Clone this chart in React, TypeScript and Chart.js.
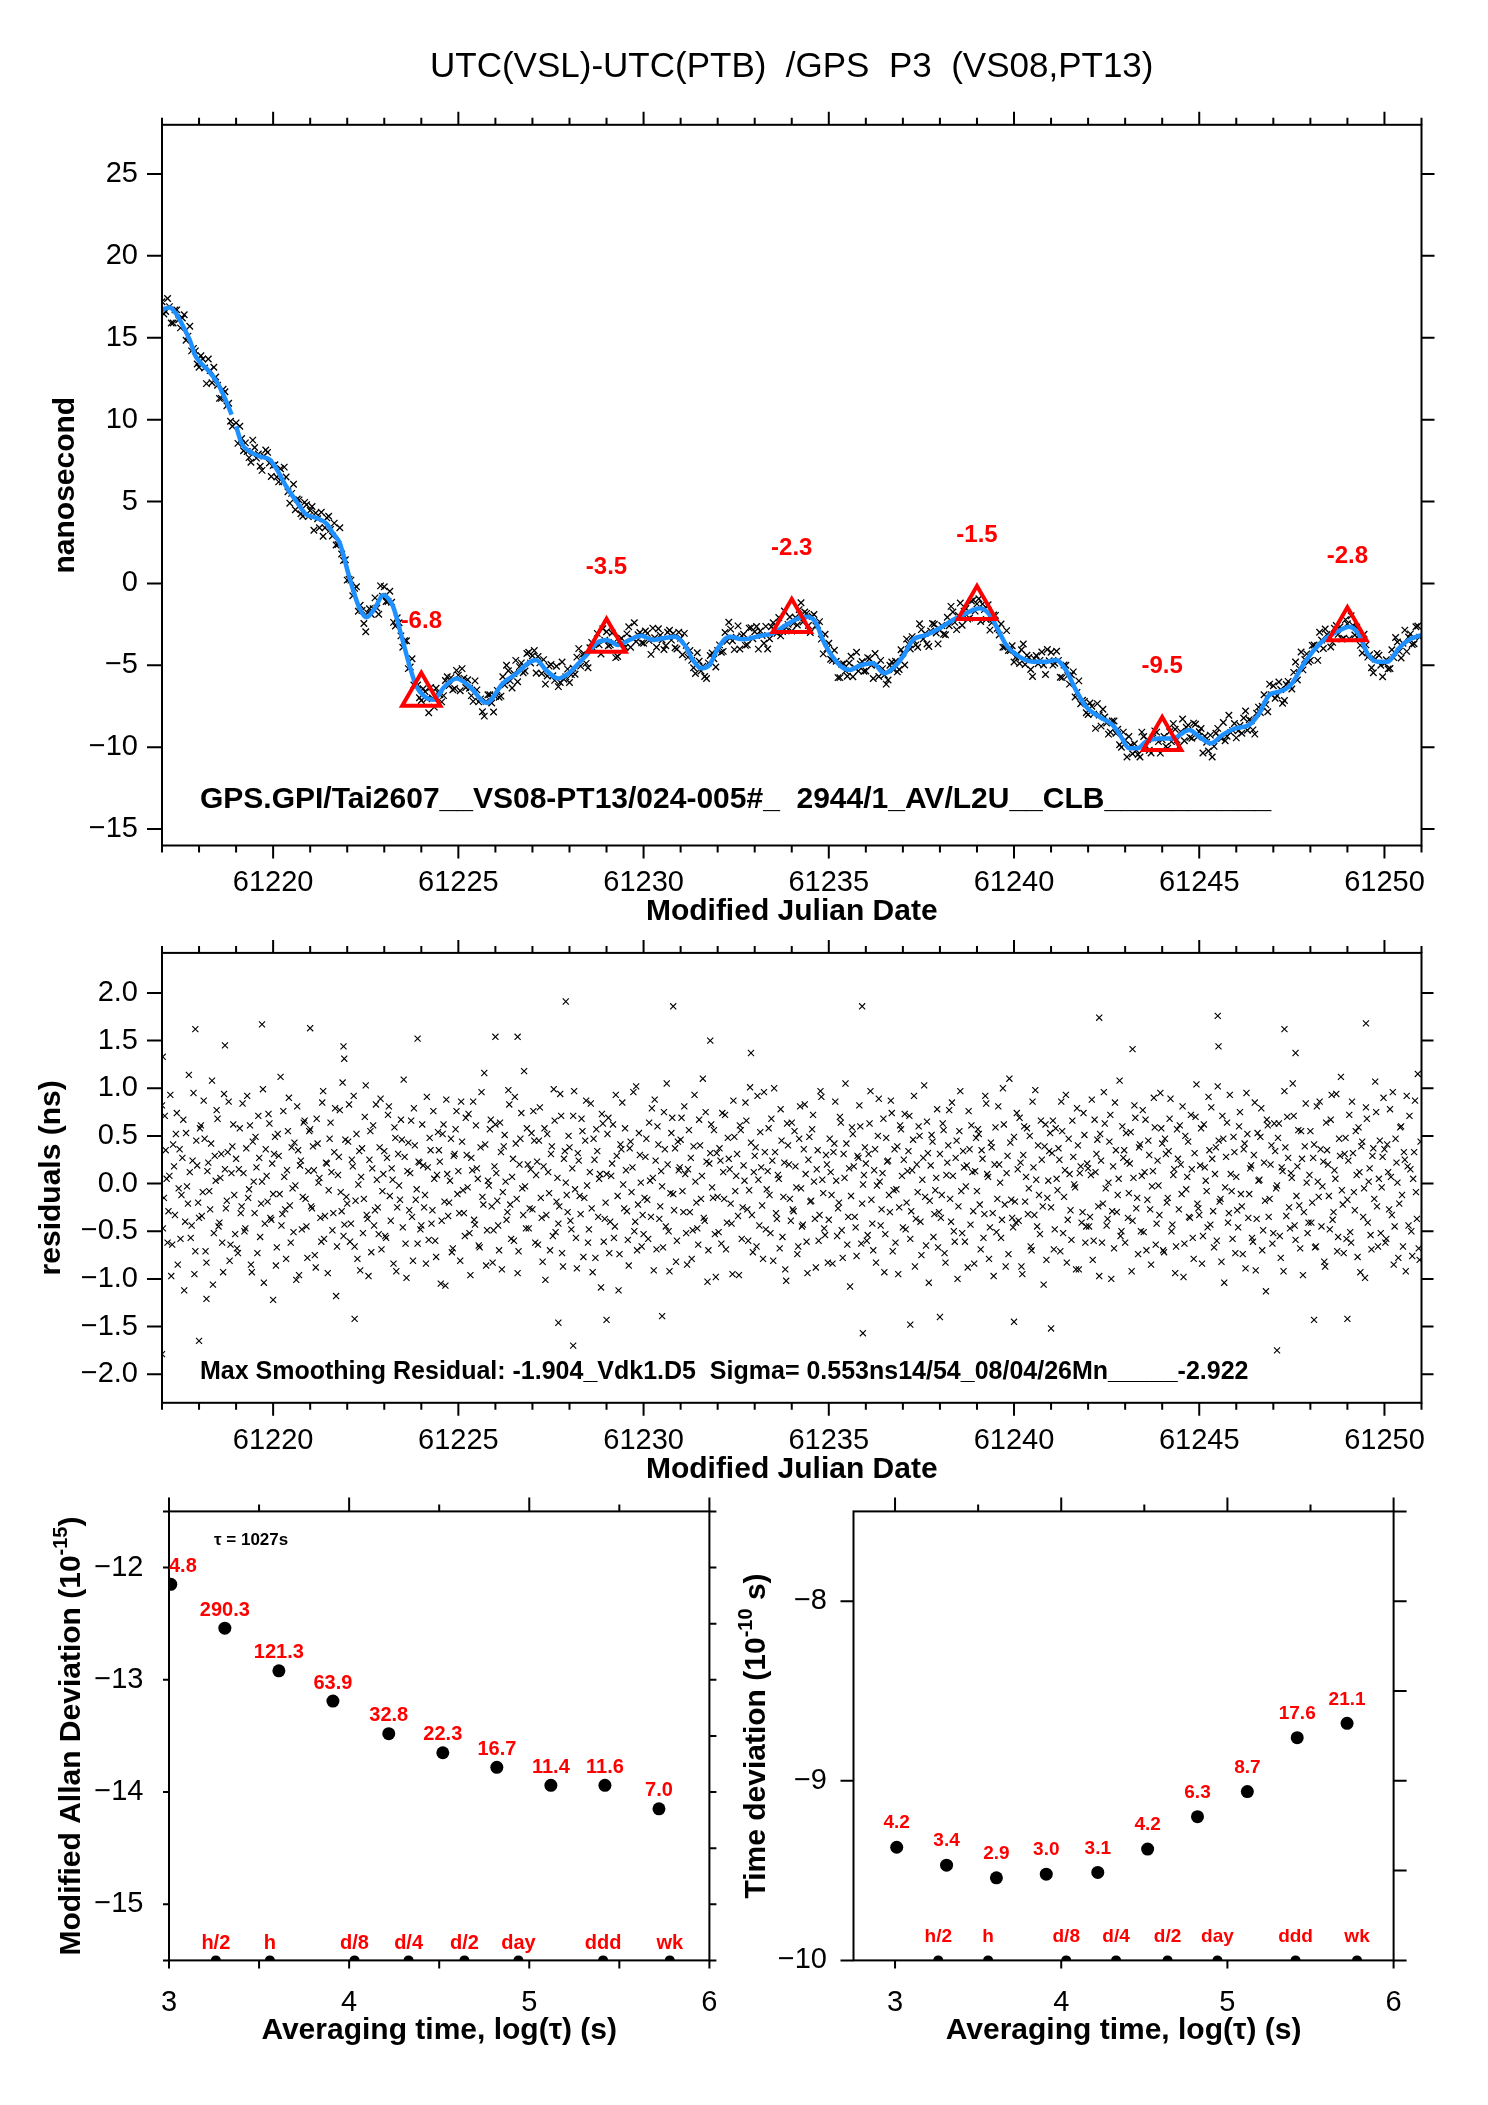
import React, { useEffect, useRef } from "react";
import { Chart, registerables } from "chart.js";

Chart.register(...registerables);

const FONT = "'Liberation Sans', Arial, Helvetica, sans-serif";

// ---------------- tick labels ----------------
const mjdTickLabels = [61220, 61225, 61230, 61235, 61240, 61245, 61250];
const nsTickLabels = [-15, -10, -5, 0, 5, 10, 15, 20, 25];
const residTickLabels = [-2, -1.5, -1, -0.5, 0, 0.5, 1, 1.5, 2];
const logTauTickLabels = [3, 4, 5, 6];
const adevTickLabels = [-15, -14, -13, -12];
const tdevTickLabels = [-10, -9, -8];

// ---------------- top panel: raw clock differences (ns) ----------------
// series A: 0.1 day sampling starting at MJD 61217.00
const rawStartMjd = 61217.0;
const rawStepDay = 0.1;
const rawNs = [
  17.2, 16.6, 16.9, 15.9, 16.7, 15.6, 16.4, 15.1, 14.2, 14.2,
  13.2, 13.7, 12.2, 13.0, 13.2, 12.1, 11.3, 11.7, 11.0, 9.6,
  9.8, 9.6, 8.1, 8.05, 7.4, 8.3, 7.9, 6.9, 8.15, 7.35,
  7.2, 6.5, 7.0, 7.1, 5.6, 5.5, 4.5, 5.1, 4.1, 4.8,
  4.45, 3.25, 3.95, 4.35, 3.4, 4.1, 2.9, 2.35, 3.4, 1.4,
  0.2, 0.2, -0.3, -1.7, -1.65, -2.95, -1.55, -1.55, -1.5, -0.15,
  -0.2, -1.1, -1.15, -2.6, -2.4, -3.9, -3.5, -5.1, -6.2, -6.2,
  -7.15, -6.6, -7.9, -7.0, -6.4, -6.8, -6.85, -5.7, -5.75, -6.42,
  -5.6, -5.2, -6.35, -6.4, -7.2, -6.5, -7.05, -8.1, -6.8, -7.3,
  -6.9, -6.95, -5.7, -5.0, -5.95, -5.5, -6.0, -4.85, -5.35, -4.2,
  -4.42, -5.47, -4.85, -4.65, -5.65, -4.95, -5.92, -6.3, -4.8, -5.7,
  -6.05, -5.18, -4.5, -5.05, -4.3, -5.15, -3.6, -3.65, -3.75, -2.77,
  -2.95, -3.75, -3.6, -4.46, -3.35, -3.9, -2.65, -3.35, -3.55, -3.0,
  -3.65, -3.05, -4.33, -3.32, -2.77, -3.45, -3.8, -2.86, -3.05, -4.0,
  -3.35, -3.05, -4.5, -4.7, -5.5, -4.75, -5.05, -5.8, -4.4, -4.6,
  -4.1, -4.2, -3.0, -2.37, -3.5, -3.28, -4.0, -3.1, -3.75, -2.7,
  -2.95, -4.01, -3.18, -2.62, -3.38, -2.4, -3.05, -3.2, -1.68, -2.5,
  -2.9, -2.08, -1.6, -2.35, -1.83, -3.0, -1.9, -2.55, -3.4, -3.1,
  -3.65, -4.7, -4.75, -5.75, -4.9, -5.67, -4.45, -5.15, -5.35, -4.77,
  -5.35, -4.6, -5.8, -4.95, -4.7, -5.59, -5.9, -4.8, -4.75, -5.25,
  -4.25, -3.4, -4.0, -3.5, -3.9, -2.82, -3.05, -3.85, -2.45, -3.03,
  -2.84, -3.1, -2.06, -1.4, -2.38, -1.96, -2.55, -1.53, -2.12, -1.02,
  -1.25, -2.32, -1.6, -1.3, -2.4, -1.95, -3.15, -3.9, -2.88, -4.1,
  -4.8, -4.32, -4.05, -4.95, -4.52, -5.68, -4.4, -4.7, -4.98, -4.03,
  -4.2, -4.87, -4.7, -5.75, -5.0, -6.15, -5.4, -6.65, -7.35, -7.2,
  -8.0, -7.5, -8.85, -8.03, -7.68, -8.52, -9.08, -8.4, -8.9, -10.0,
  -9.55, -9.35, -10.4, -10.18, -10.6, -9.35, -9.53, -10.35, -9.0, -9.66,
  -9.55, -9.95, -9.06, -8.56, -9.55, -9.05, -9.6, -8.65, -9.45, -8.6,
  -9.06, -10.35, -9.7, -9.26, -9.95, -8.85, -9.47, -9.6, -8.05, -8.97,
  -9.43, -8.67, -8.22, -8.96, -8.38, -9.2, -7.55, -7.5, -7.4, -6.15,
  -6.25, -6.86, -6.48, -7.15, -5.98, -6.45, -4.8, -5.2, -5.28, -4.3,
  -4.7, -3.76, -4.7, -3.45, -2.78, -3.35, -3.6, -2.57, -2.65, -3.35,
  -2.46, -1.97, -3.15, -3.2, -4.25, -3.75, -4.35, -5.45, -4.27, -5.0,
  -4.89, -5.22, -4.05, -3.3, -4.15, -3.65, -4.15, -3.08, -3.68, -2.6,
];
// series B: 0.1 day sampling starting at MJD 61217.05 (null = data gap)
const rawMidStartMjd = 61217.05;
const rawMidNs: (number | null)[] = [
  16.45, 17.4, 15.9, 16.7, 16.1, 16.2, 14.85, 15.7, 14.35, 13.4,
  13.9, 13.15, 13.7, 12.25, 12.6, 11.3, 11.85, 10.85, 9.9, null,
  8.55, 8.85, 8.58, 7.68, 8.75, 7.65, 7.15, 7.78, 8.0, 6.53,
  7.25, 6.2, 6.2, 6.5, 4.9, 6.05, 5.15, 4.25, 4.95, 4.08,
  4.7, 4.3, 3.4, 2.88, 4.0, 3.3, 3.68, 2.38, 1.8, 1.45,
  0.25, -0.75, -0.2, -1.33, -2.45, -1.8, -1.9, -0.88, -1.88, -0.78,
  -1.1, -0.48, -2.38, -2.1, -3.2, -3.5, -5.2, -4.6, -6.05, -6.98,
  -6.43, -7.05, -6.35, -7.55, -6.65, -7.23, -5.93, -6.23, -6.49, -5.31,
  -6.55, -5.78, -5.88, -6.85, -5.95, -7.23, -7.83, -7.2, -6.8, -7.85,
  -6.53, -6.88, -6.2, -5.33, -6.38, -4.7, -5.08, -5.45, -4.28, -4.86,
  -4.1, -4.46, -5.5, -6.15, -5.05, -5.64, -5.06, -6.05, -5.85, -5.23,
  -5.57, -5.54, -3.98, -4.33, -4.88, -3.93, -3.98, -3.05, -4.31, -3.46,
  -3.8, -3.03, -4.53, -3.5, -3.68, -3.08, -3.9, -2.4, -3.13, -3.63,
  -2.9, -3.49, -2.73, -3.9, -3.16, -4.03, -2.98, -3.46, -3.93, -2.98,
  -4.35, -3.78, -4.1, -5.15, -4.23, -5.35, -5.68, -4.85, -4.25, -5.1,
  -3.75, -4.15, -3.54, -2.79, -4.04, -2.59, -3.2, -3.78, -2.73, -3.38,
  -2.63, -2.9, -3.65, -4.0, -2.64, -2.93, -2.08, -2.94, -2.69, -2.05,
  -2.44, -2.54, -1.18, -1.74, -2.57, -2.0, -2.58, -2.33, -4.3, -3.98,
  -4.63, -4.08, -5.75, -4.93, -5.34, -4.86, -5.7, -4.2, -4.91, -5.36,
  -4.53, -5.0, -4.28, -5.68, -5.2, -6.15, -5.0, -5.28, -5.4, -4.05,
  -4.98, -3.7, -3.25, -3.75, -2.46, -3.39, -3.7, -2.9, -2.49, -3.69,
  -2.57, -3.13, -2.58, -1.74, -2.82, -1.2, -1.69, -2.18, -1.07, -1.69,
  -0.94, -1.26, -2.2, -2.85, -1.93, -2.75, -2.48, -3.89, -4.09, -3.8,
  -4.51, -4.89, -3.7, -4.39, -5.25, -4.59, -4.9, -4.19, -5.56, -4.72,
  -4.99, -4.14, -5.73, -4.98, -5.63, -5.58, -6.93, -5.95, -7.13, -7.9,
  -7.3, -7.98, -7.34, -8.71, -8.15, -9.2, -8.39, -9.15, -9.85, -9.08,
  -10.6, -9.88, -9.79, -10.44, -9.08, -9.89, -10.19, -9.43, -9.08, -10.36,
  -9.35, -10.06, -9.66, -8.9, -9.95, -8.28, -8.78, -9.4, -8.53, -9.38,
  -8.86, -9.33, -10.23, -10.6, -9.15, -9.36, -8.49, -9.33, -9.11, -8.55,
  -9.0, -9.15, -7.79, -8.32, -8.94, -7.93, -7.88, -6.8, -7.83, -6.8,
  -7.01, -6.02, -7.32, -6.17, -6.27, -5.43, -5.9, -4.19, -4.64, -4.8,
  -3.78, -4.03, -2.98, -3.97, -3.12, -3.88, -2.74, -3.11, -3.4, -2.21,
  -3.37, -2.56, -2.68, -3.78, -3.1, -4.5, -5.15, -4.61, -4.39, -5.7,
  -4.66, -5.19, -4.53, -3.58, -4.55, -2.85, -3.27, -3.73, -2.64, -3.28,
];

// ---------------- top panel: smoothed curve (ns), null = gap ----------------
const smoothMjd = [
  61217.0, 61217.2, 61217.4, 61217.57, 61217.76, 61217.89, 61218.03, 61218.25, 61218.48, 61218.7,
  61218.88, 61218.94, 61219.0, 61219.15, 61219.37, 61219.64, 61219.91, 61220.09, 61220.36, 61220.63,
  61220.9, 61221.17, 61221.44, 61221.62, 61221.8, 61222.03, 61222.16, 61222.32, 61222.52, 61222.75,
  61222.97, 61223.1, 61223.24, 61223.47, 61223.69, 61223.87, 61224.09, 61224.32, 61224.63, 61224.95,
  61225.31, 61225.76, 61226.2, 61226.57, 61226.93, 61227.1, 61227.37, 61227.7, 61228.0, 61228.28,
  61228.46, 61228.73, 61229.0, 61229.31, 61229.62, 61229.94, 61230.25, 61230.52, 61230.84, 61231.11,
  61231.33, 61231.56, 61231.78, 61232.01, 61232.32, 61232.68, 61233.13, 61233.49, 61233.85, 61234.17,
  61234.43, 61234.66, 61234.84, 61235.07, 61235.34, 61235.56, 61235.88, 61236.19, 61236.5, 61236.73,
  61237.0, 61237.27, 61237.63, 61237.99, 61238.35, 61238.71, 61239.07, 61239.34, 61239.55, 61239.79,
  61240.14, 61240.5, 61240.87, 61241.13, 61241.4, 61241.67, 61241.94, 61242.3, 61242.66, 61242.89,
  61243.11, 61243.34, 61243.56, 61243.92, 61244.28, 61244.73, 61245.0, 61245.32, 61245.63, 61245.99,
  61246.35, 61246.62, 61246.89, 61247.16, 61247.47, 61247.83, 61248.1, 61248.42, 61248.73, 61249.05,
  61249.32, 61249.54, 61249.81, 61250.08, 61250.39, 61250.66, 61251.0,
];
const smoothNs: (number | null)[] = [
  16.7, 16.85, 16.4, 15.7, 14.8, 13.95, 13.5, 13.0, 12.3, 11.3,
  10.3, null, 9.6, 8.55, 8.05, 7.75, 7.55, 7.0, 5.9, 5.0,
  4.2, 4.0, 3.65, 3.05, 2.45, 0.6, -0.4, -1.45, -2.07, -1.5,
  -0.7, -0.9, -1.42, -3.25, -5.08, -6.3, -6.9, -7.1, -6.3, -5.8,
  -6.3, -7.3, -6.1, -5.5, -4.8, -4.67, -5.3, -5.8, -5.45, -4.8,
  -4.37, -3.65, -3.45, -3.76, -3.45, -3.2, -3.45, -3.35, -3.25, -3.76,
  -4.67, -5.18, -4.98, -3.96, -3.25, -3.41, -3.21, -3.04, -2.54, -2.13,
  -2.03, -2.43, -3.45, -4.37, -5.08, -5.28, -4.98, -4.88, -5.49, -5.18,
  -4.47, -3.45, -3.15, -2.74, -2.23, -1.82, -1.52, -1.9, -2.74, -3.76,
  -4.47, -4.78, -4.78, -4.67, -5.28, -6.5, -7.52, -8.13, -8.64, -9.36,
  -10.07, -10.07, -9.66, -9.46, -9.46, -8.95, -9.36, -9.76, -9.25, -8.84,
  -8.64, -7.93, -6.81, -6.61, -6.2, -4.88, -4.06, -3.35, -2.94, -2.64,
  -3.15, -4.27, -4.78, -4.78, -3.96, -3.45, -3.15,
];

// ---------------- top panel: marked extrema ----------------
const peakMjd = [61224, 61229, 61234, 61239, 61244, 61249];
const peakNs = [-6.8, -3.5, -2.3, -1.5, -9.5, -2.8];
const peakLabels = ["-6.8", "-3.5", "-2.3", "-1.5", "-9.5", "-2.8"];

// ---------------- residual panel (ns) ----------------
// series A: 0.05 day sampling starting at MJD 61217.000
const residStartMjd = 61217.0;
const residStepDay = 0.05;
const residNs = [
  0.82, -0.15, 0.35, -0.62, 0.08, -0.97, 0.41, -0.33, 0.74, -0.05, -0.58, 0.27, -1.12, 0.53, -0.21, 0.12, -0.44, 0.95, -0.71, 0.19,
  -0.36, 0.61, -0.09, 0.47, -0.83, 0.22, -0.27, 1.08, -0.52, 0.03, 0.68, -0.41, 0.31, -0.93, 0.15, -0.18, 0.86, -0.64, 0.39, -0.12,
  0.26, -0.73, 0.58, -0.24, 0.11, -0.47, 0.92, -0.06, -0.85, 0.44, -0.31, 0.17, 0.71, -0.56, 0.02, -1.04, 0.36, -0.19, 0.63, -0.38,
  -0.11, 0.49, -0.67, 0.29, 1.12, -0.32, 0.07, -0.79, 0.55, -0.23, 0.38, -0.51, -0.02, 0.81, -0.96, 0.24, -0.14, 0.66, -0.45, 0.13,
  0.57, -0.26, 0.14, -0.88, 0.42, 0.06, -0.61, 0.97, -0.34, 0.21, -0.07, 0.64, -0.49, 0.33, -1.18, 0.09, 0.77, -0.29, -0.55, 0.46,
  -0.21, 0.83, -0.42, 0.18, -0.66, 0.52, -0.01, -0.91, 0.37, -0.16, 1.03, -0.37, 0.25, -0.72, 0.61, -0.28, 0.04, -0.53, 0.89, -0.08,
  0.34, -0.57, 0.72, -0.13, 0.16, -0.84, 0.48, -0.25, -0.02, 0.67, -0.46, 0.28, -0.99, 0.43, 0.11, -0.35, 0.79, -0.17, -0.63, 0.22,
  -0.44, 0.19, -0.12, 0.91, -0.59, 0.35, -0.28, 0.05, -0.77, 0.54, 0.23, -0.39, 0.62, -1.07, 0.1, -0.2, 0.47, -0.68, 0.31, 0.76,
  0.13, -0.81, 0.44, -0.31, 0.69, -0.04, -0.52, 0.27, 0.86, -0.43, 0.16, -0.65, 0.38, -0.14, 1.16, -0.86, 0.03, 0.57, -0.24, -0.49,
  0.62, -0.18, -0.7, 0.33, -0.09, 0.51, -0.38, 0.98, -0.22, 0.07, -0.6, 0.42, -0.94, 0.2, 0.74, -0.33, -0.03, 0.58, -0.47, 0.15,
  -0.27, 0.45, 0.09, -0.64, 0.8, -0.36, 0.18, -1.01, 0.52, -0.1, 0.31, -0.55, 0.66, -0.19, -0.42, 0.94, -0.73, 0.26, 0.01, -0.3,
  0.38, -0.48, 0.71, -0.06, -0.89, 0.24, -0.32, 0.55, -0.15, 0.87, -0.62, 0.12, -0.26, 0.47, -0.78, 0.34, 0.05, -1.09, 0.63, -0.37,
  0.1, 0.69, -0.4, 0.21, -0.57, 0.93, -0.13, -0.74, 0.36, -0.01, 0.58, -0.29, -0.86, 0.44, 0.17, -0.5, 1.02, -0.22, 0.3, -0.66,
  -0.53, 0.28, -0.17, 0.64, -0.35, 0.06, 0.88, -0.69, 0.41, -0.24, -0.03, 0.75, -0.45, 0.2, -0.92, 0.53, -0.11, 0.37, -0.6, 0.14,
  0.46, -0.08, 0.81, -0.52, 0.15, -0.3, -0.79, 0.39, 0.02, -0.47, 0.67, -0.16, 1.1, -0.39, 0.23, -0.7, 0.32, -0.04, 0.56, -0.98,
  -0.14, 0.37, -0.63, 0.12, 0.72, -0.41, 0.26, -0.21, -0.95, 0.49, 0.08, -0.34, 0.61, -0.58, 0.19, 0.85, -0.27, -0.07, 0.43, -0.72,
  0.29, -0.66, 0.04, 0.54, -0.23, 0.96, -0.48, 0.13, -0.12, 0.68, -0.81, 0.33, -0.37, 0.05, 0.78, -0.56, 0.22, -1.02, 0.4, -0.16,
  0.64, -0.29, 0.18, -0.74, 0.47, -0.05, -0.43, 0.83, -0.61, 0.25, -0.19, 0.57, 0.02, -0.88, 0.35, -0.33, 0.91, -0.1, -0.54, 0.2,
  -0.38, 0.12, -0.84, 0.42, 0.03, -0.26, 0.7, -0.49, 0.31, 1.05, -0.64, 0.16, -0.13, 0.52, -0.35, -0.76, 0.27, 0.6, -0.21, 0.09,
  0.21, -0.54, 0.63, -0.17, -0.7, 0.36, -0.02, 0.89, -0.44, 0.11, -0.93, 0.48, 0.24, -0.3, 0.74, -0.07, -0.62, 0.39, -0.25, 0.57,
  -0.46, 0.73, -0.2, 0.34, -0.58, 0.14, 0.92, -0.37, -0.09, 0.5, -0.75, 0.27, -0.14, 0.65, -1.04, 0.19, 0.44, -0.32, 0.06, -0.67,
  0.31, -0.12, 0.56, -0.83, 0.22, 0.77, -0.4, 0.08, -0.61, 0.45, -0.24, 0.97, -0.52, 0.17, -0.03, -0.88, 0.36, 0.61, -0.29, 0.13,
  -0.08, 0.52, -0.69, 0.26, -0.32, 0.84, 0.07, -0.46, 0.38, -0.97, 0.59, -0.16, 0.2, -0.57, 1.0, -0.22, 0.11, -0.74, 0.43, -0.36,
  0.49, -0.41, 0.15, 0.69, -0.87, 0.3, -0.19, 0.58, -0.05, -0.66, 0.86, -0.33, 0.04, 0.4, -0.53, 0.25, -1.06, 0.62, -0.15, 0.34,
  -0.25, 0.66, -0.48, 0.05, 0.37, -0.71, 0.55, -0.14, 0.93, -0.38, 0.1, -0.59, 0.28, -0.04, 0.79, -0.9, 0.18, -0.3, 0.51, -0.45,
  0.16, -0.35, 0.88, -0.6, 0.12, 0.46, -0.97, 0.24, -0.21, 0.63, -0.44, 0.01, 0.72, -0.29, -0.68, 0.35, -0.12, 1.08, -0.5, 0.27,
  -0.62, 0.23, -0.1, 0.54, -0.39, 0.82, -0.26, -0.74, 0.41, 0.08, -0.51, 0.67, -0.17, 0.3, -0.85, 0.13, 0.59, -0.42, -0.02, 0.95,
  0.42, -0.72, 0.31, -0.15, 0.68, -0.5, 0.09, -0.94, 0.57, -0.27, 0.2, 0.81, -0.63, -0.06, 0.44, -0.36, 0.15, -0.79, 0.7, -0.21,
  -0.33, 0.58, -0.55, 0.17, -0.08, 0.91, -0.43, 0.26, -0.67, 0.38, 1.02, -0.19, -0.82, 0.47, -0.04, 0.64, -0.31, 0.1, -0.58, 0.33,
  0.07, -0.46, 0.75, -0.24, 0.36, -0.89, 0.52, -0.11, 0.19, -0.61, 0.85, -0.37, 0.03, 0.49, -0.7, 0.22, -1.13, 0.61, -0.16, 0.4,
  -0.52, 0.34, -0.02, 0.63, -0.78, 0.13, 0.97, -0.34, 0.27, -0.47, 0.06, 0.71, -0.59, 0.18, -0.23, 0.55, -0.96, 0.39, 0.01, -0.41,
  0.55, -0.2, 0.41, -0.66, 0.02, 0.86, -0.45, 0.23, -0.87, 0.35, -0.13, 0.67, -0.38, 0.14, 0.94, -0.56, 0.29, -0.07, -0.73, 0.48,
  -0.17, 0.72, -0.62, 0.32, -0.28, 0.09, 0.59, -0.93, 0.44, -0.05, 0.8, -0.41, 0.16, -0.69, 0.37, 1.07, -0.24, 0.05, -0.52, 0.28,
  0.36, -0.58, 0.12, 0.78, -0.33, -0.85, 0.47, 0.01, -0.21, 0.6, -0.66, 0.25, 0.92, -0.44, 0.15, -0.76, 0.33, -0.09, 1.15, -0.8,
];
// series B: 0.05 day sampling starting at MJD 61217.025
const residMidStartMjd = 61217.025;
const residMidNs = [
  -0.47, 0.71, 0.05, -0.29, 0.93, -0.64, 0.18, 0.52, -0.85, 0.36, -0.12, 0.67, -0.4, -0.03, 1.14, -0.57, 0.24, -0.95, 0.45, -0.2,
  0.58, -0.34, 0.87, -0.71, 0.13, -0.08, 0.42, -1.06, 0.29, 0.77, -0.45, 0.06, -0.62, 0.94, -0.26, 0.33, -0.81, 0.11, 0.62, -0.53,
  -0.68, 0.15, -0.31, 0.84, -0.5, 0.37, -0.15, 0.61, -0.93, 0.02, 0.49, -0.73, 0.27, -0.21, 0.99, -0.42, 0.08, 0.73, -0.36, 0.21,
  0.31, -0.86, 0.52, -0.11, -0.44, 0.76, -0.27, 0.14, 0.9, -0.62, -0.05, 0.43, -1.01, 0.35, 0.19, -0.48, 0.64, -0.16, -0.78, 0.55,
  -0.24, 0.39, -0.75, 0.68, 0.01, -0.36, 0.85, -0.58, 0.22, -0.94, 0.47, 0.12, -0.31, 0.79, -0.66, 0.28, -0.09, 1.06, -0.43, -0.14,
  0.44, -0.61, 0.25, 0.92, -0.18, -0.79, 0.34, 0.07, -0.52, 0.7, -0.33, -0.97, 0.55, 0.16, -0.44, 0.83, -0.25, 0.38, -0.69, 0.1,
  -0.55, 0.27, 0.81, -0.39, 0.04, 0.59, -0.92, 0.31, -0.17, 0.46, 1.09, -0.63, 0.13, -0.28, 0.66, -0.81, 0.4, -0.06, 0.23, -0.48,
  0.62, -0.25, -0.84, 0.17, 0.48, -0.42, 0.76, -0.6, 0.09, 0.35, -1.05, 0.52, -0.19, 0.88, -0.34, 0.03, -0.72, 0.29, 0.57, -0.11,
  -0.31, 0.86, -0.07, -0.55, 0.3, 0.73, -0.96, 0.14, -0.38, 0.61, 0.05, -0.67, 0.96, -0.22, 0.41, -0.49, -0.02, 0.67, -0.83, 0.18,
  0.11, -0.44, 0.64, -0.9, 0.39, 0.02, -0.3, 0.83, -0.58, 0.26, 0.91, -0.16, -0.71, 0.47, -0.05, 1.18, -0.47, 0.2, -0.26, 0.53,
  0.76, -0.62, 0.23, 0.45, -0.15, -0.82, 0.58, -0.33, 0.12, -0.7, 0.39, 0.99, -0.51, 0.06, -0.24, 0.71, -0.87, 0.34, -0.12, 0.5,
  -0.39, 0.16, 0.97, -0.57, 0.32, -0.13, 0.68, -0.77, 0.45, -0.02, -0.48, 0.84, -0.93, 0.25, 0.57, -0.35, 0.1, 0.73, -0.61, -0.2,
  0.52, -0.73, 0.08, 0.62, -0.45, 0.29, -1.12, 0.41, 0.85, -0.26, 0.14, -0.59, 0.37, -0.09, 0.96, -0.4, -0.7, 0.53, 0.01, -0.33,
  -0.15, 0.47, -0.58, 0.03, 0.79, -0.91, 0.24, 0.6, -0.37, 0.13, -0.67, 0.36, 1.05, -0.5, -0.1, 0.69, -0.28, -0.82, 0.44, 0.17,
  0.69, -0.3, 0.1, -0.85, 0.56, 0.27, -0.49, 0.93, -0.2, -0.64, 0.4, 0.08, -0.36, 0.75, -1.03, 0.21, 0.62, -0.15, -0.53, 0.32,
  -0.51, 0.24, 0.74, -0.16, -0.69, 0.48, 0.15, -0.42, 0.87, -0.08, 0.31, -0.96, 0.56, -0.25, 0.03, 0.66, -0.6, 1.01, -0.33, 0.12,
  0.38, 0.92, -0.44, 0.17, -0.79, 0.33, -0.06, 0.58, -0.52, 0.24, 1.0, -0.31, 0.09, -0.68, 0.45, -0.14, -0.9, 0.63, 0.2, -0.39,
  -0.27, 0.55, -0.04, -0.66, 0.81, -0.45, 0.36, 0.1, -0.94, 0.49, -0.18, 0.72, -0.37, 0.15, -0.6, 0.97, 0.04, -0.47, 0.3, -0.83,
  0.47, -0.12, 0.33, 0.86, -0.55, -0.2, 0.64, -0.78, 0.06, 0.42, -0.35, -1.08, 0.59, 0.18, -0.46, 0.29, 0.82, -0.63, -0.01, 0.38,
  -0.6, 0.31, 0.97, -0.42, 0.14, -0.83, 0.5, 0.02, -0.27, 0.68, -0.53, 0.23, -0.12, 0.87, -0.71, 0.36, -0.06, -0.95, 0.61, 0.08,
  0.25, -0.48, 0.13, 0.71, -0.29, 0.46, -0.87, 0.2, 0.6, -0.4, 0.04, 1.03, -0.65, 0.32, -0.18, 0.51, -0.56, -0.07, 0.78, -0.3,
  -0.36, 0.63, -0.73, 0.09, 0.4, -0.16, 0.85, -0.5, 0.27, -1.0, 0.55, -0.08, 0.34, -0.61, 0.19, 0.76, -0.43, 0.12, -0.84, 0.48,
  0.57, -0.22, 0.35, -0.57, 0.92, 0.1, -0.79, 0.43, -0.31, 0.2, -0.51, 0.81, 0.01, -0.38, 0.62, -0.87, 0.29, 1.1, -0.17, -0.46,
  -0.19, 0.74, -0.39, 0.22, -0.95, 0.6, 0.07, -0.32, 0.5, -0.7, 0.17, 0.98, -0.45, -0.12, 0.66, -0.24, 0.39, -0.8, 0.03, 0.53,
  0.32, -0.69, 0.58, -0.07, 0.25, 0.86, -0.52, 0.14, -0.83, 0.47, -0.28, 0.66, -0.01, -0.9, 0.4, 0.11, -0.41, 0.74, -0.62, 0.21,
  -0.45, 0.09, -0.8, 0.67, 0.31, -0.24, 0.52, -0.62, 0.96, -0.05, -0.37, 0.44, -1.0, 0.18, 0.85, -0.3, 0.05, -0.55, 0.6, 0.35,
  0.53, -0.36, 0.21, -0.92, 0.06, 0.69, -0.15, 0.38, -0.5, 0.77, 0.12, -0.7, 0.45, -0.27, -0.03, 0.9, -0.64, 0.24, -0.33, 0.58,
  -0.7, 0.47, -0.2, 0.34, 0.89, -0.43, 0.15, -0.66, 0.26, 0.61, -0.11, -0.98, 0.5, 0.07, -0.35, 0.72, -0.57, 0.32, 1.04, -0.26,
  0.19, -0.84, 0.62, 0.03, -0.46, 0.35, 0.8, -0.29, 0.1, -0.6, 0.45, -0.16, 0.71, -1.04, 0.28, -0.41, 0.93, -0.08, 0.49, -0.73,
  -0.28, 0.6, -0.11, -0.74, 0.42, 0.95, -0.36, 0.16, -0.57, 0.3, -0.91, 0.53, 0.04, 0.79, -0.49, -0.18, 0.67, -0.35, 0.2, -0.63,
  0.63, -0.05, 0.48, -0.55, 0.17, -0.92, 0.38, 0.7, -0.25, 0.11, 1.05, -0.44, -0.13, 0.56, -0.68, 0.26, -0.3, 0.84, -0.52, 0.09,
  -0.41, 0.27, -0.67, 0.81, -0.14, 0.36, -0.03, -0.82, 0.64, 0.2, -0.48, 0.93, -0.3, 0.05, -0.71, 0.47, 1.12, -0.22, 0.31, -0.58,
  0.24, -0.51, 0.86, -0.09, 0.55, -0.77, 0.12, 0.39, -0.35, -0.99, 0.68, 0.02, -0.54, 0.29, -0.16, 0.75, -0.66, 0.45, -0.04, 0.9,
  -0.62, 0.41, -0.27, 0.07, 0.96, -0.45, 0.22, -0.78, 0.59, -0.12, 0.33, -0.92, 0.18, 0.71, -0.5, 0.05, 0.87, -0.37, -0.68, 0.44,
];
const residOutlierMjd = [
  61217.0, 61217.02, 61217.9, 61218.0, 61218.2, 61218.7, 61219.7, 61220.0, 61221.0, 61221.9,
  61221.92, 61222.2, 61223.9, 61226.0, 61226.6, 61227.9, 61228.1, 61227.7, 61229.0, 61230.8,
  61230.5, 61231.8, 61232.9, 61235.9, 61235.92, 61237.2, 61238.0, 61240.0, 61241.0, 61242.3,
  61243.2, 61245.5, 61245.52, 61247.3, 61247.1, 61249.5, 61248.1, 61249.0, 61247.6,
];
const residOutlierNs = [
  -1.79, 1.33, 1.62, -1.65, -1.21, 1.45, 1.67, -1.22, 1.63, 1.44,
  1.31, -1.42, 1.52, 1.54, 1.54, 1.91, -1.7, -1.46, -1.43, 1.86,
  -1.39, 1.5, 1.37, 1.86, -1.57, -1.48, -1.4, -1.45, -1.52, 1.74,
  1.41, 1.76, 1.44, 1.62, -1.75, 1.68, -1.43, -1.42, 1.37,
];

// ---------------- stability panels ----------------
const tauLog = [3.01, 3.31, 3.61, 3.91, 4.22, 4.52, 4.82, 5.12, 5.42, 5.72];
const modAdevLog = [-12.15, -12.54, -12.92, -13.19, -13.48, -13.65, -13.78, -13.94, -13.94, -14.15];
const modAdevLabels = ["4.8", "290.3", "121.3", "63.9", "32.8", "22.3", "16.7", "11.4", "11.6", "7.0"];
const tdevLog = [-9.37, -9.47, -9.54, -9.52, -9.51, -9.38, -9.2, -9.06, -8.76, -8.68];
const tdevLabels = ["4.2", "3.4", "2.9", "3.0", "3.1", "4.2", "6.3", "8.7", "17.6", "21.1"];
const intervalLog = [3.26, 3.56, 4.03, 4.33, 4.64, 4.94, 5.41, 5.78];
const intervalLabels = ["h/2", "h", "d/8", "d/4", "d/2", "day", "ddd", "wk"];

const MJD_MIN = 61217;
const MJD_MAX = 61251;
const ADEV_MIN = -15.5;
const TDEV_MIN = -10;

// ---------------- helpers ----------------
const fmtPlain = (v: number) => String(v);
const fmtInt = (v: number) => (v < 0 ? "\u2212" + String(-v) : String(v));
const fmtRes = (v: number) => (v < 0 ? "\u2212" : "") + Math.abs(v).toFixed(1);

function range(a: number, b: number, step: number) {
  const out: number[] = [];
  for (let v = a; v <= b + 1e-9; v += step) out.push(Math.round(v * 1000) / 1000);
  return out;
}

function series(start: number, step: number, values: (number | null)[]) {
  return values.map((y, i) => ({ x: start + i * step, y }));
}

type TickSpec = { axis: "x" | "y"; side: "top" | "bottom" | "left" | "right"; values: number[]; len: number };
type TextSpec = { text: string; x: number | "center"; y: number; size: number; bold?: boolean; color?: string; align?: CanvasTextAlign };
type PointLabelSpec = { xs: number[]; ys: number[] | null; labels: string[]; dy: number; size: number; color: string };
type RotTitle = { parts: { t: string; sup?: boolean }[]; x: number; y: number; size: number };
type DecorSpec = { ticks: TickSpec[]; texts?: TextSpec[]; pointLabels?: PointLabelSpec[]; rotTitle?: RotTitle };

function makeDecor(spec: DecorSpec) {
  return {
    id: "decor",
    afterDraw(chart: any) {
      const ctx = chart.ctx as CanvasRenderingContext2D;
      const a = chart.chartArea;
      ctx.save();
      ctx.strokeStyle = "#000";
      ctx.lineWidth = 2;
      ctx.strokeRect(a.left, a.top, a.right - a.left, a.bottom - a.top);
      ctx.beginPath();
      for (const t of spec.ticks) {
        const sc = chart.scales[t.axis];
        for (const v of t.values) {
          const p = sc.getPixelForValue(v);
          if (t.side === "top") { ctx.moveTo(p, a.top); ctx.lineTo(p, a.top - t.len); }
          else if (t.side === "bottom") { ctx.moveTo(p, a.bottom); ctx.lineTo(p, a.bottom + t.len); }
          else if (t.side === "left") { ctx.moveTo(a.left, p); ctx.lineTo(a.left - t.len, p); }
          else { ctx.moveTo(a.right, p); ctx.lineTo(a.right + t.len, p); }
        }
      }
      ctx.stroke();

      ctx.textBaseline = "middle";
      for (const tx of spec.texts || []) {
        ctx.font = `${tx.bold ? "bold " : ""}${tx.size}px ${FONT}`;
        ctx.fillStyle = tx.color || "#000";
        ctx.textAlign = tx.align || "left";
        const x = tx.x === "center" ? (a.left + a.right) / 2 : tx.x;
        ctx.fillText(tx.text, x, tx.y);
      }

      for (const pl of spec.pointLabels || []) {
        const sx = chart.scales.x;
        const sy = chart.scales.y;
        ctx.font = `bold ${pl.size}px ${FONT}`;
        ctx.fillStyle = pl.color;
        ctx.textAlign = "center";
        pl.xs.forEach((xv, i) => {
          const s = pl.labels[i];
          const w = ctx.measureText(s).width;
          let px = sx.getPixelForValue(xv);
          if (px - w / 2 < a.left) px = a.left + w / 2;
          const base = pl.ys ? sy.getPixelForValue(pl.ys[i]) : a.bottom;
          ctx.fillText(s, px, base - pl.dy);
        });
      }

      if (spec.rotTitle) {
        const r = spec.rotTitle;
        const mainFont = `bold ${r.size}px ${FONT}`;
        const supFont = `bold ${Math.round(r.size * 0.65)}px ${FONT}`;
        let total = 0;
        const widths = r.parts.map((p) => {
          ctx.font = p.sup ? supFont : mainFont;
          const w = ctx.measureText(p.t).width;
          total += w;
          return w;
        });
        ctx.translate(r.x, r.y);
        ctx.rotate(-Math.PI / 2);
        ctx.fillStyle = "#000";
        ctx.textAlign = "left";
        ctx.textBaseline = "middle";
        let cx = -total / 2;
        r.parts.forEach((p, i) => {
          ctx.font = p.sup ? supFont : mainFont;
          ctx.fillText(p.t, cx, p.sup ? -r.size * 0.35 : 0);
          cx += widths[i];
        });
      }
      ctx.restore();
    },
  };
}

function linScale(o: {
  min: number; max: number; ticks: number[]; fmt: (v: number) => string; pad: number;
  title?: string; w?: number; h?: number;
}) {
  return {
    type: "linear",
    min: o.min,
    max: o.max,
    afterBuildTicks: (s: any) => { s.ticks = o.ticks.map((v) => ({ value: v })); },
    afterFit: (s: any) => {
      if (o.w !== undefined) s.width = o.w;
      if (o.h !== undefined) s.height = o.h;
      s.paddingTop = 0;
      s.paddingBottom = 0;
      s.paddingLeft = 0;
      s.paddingRight = 0;
    },
    ticks: {
      autoSkip: false, maxRotation: 0, minRotation: 0, padding: o.pad, color: "#000",
      font: { family: FONT, size: 29 },
      callback: (v: any) => o.fmt(Number(v)),
    },
    grid: { display: false, drawTicks: false },
    border: { display: false },
    title: o.title
      ? { display: true, text: o.title, color: "#000", font: { family: FONT, size: 30, weight: "bold" }, padding: 0 }
      : { display: false },
  };
}

function baseOptions(padding: { left: number; right: number; top: number; bottom: number }) {
  return {
    animation: false,
    responsive: false,
    maintainAspectRatio: false,
    devicePixelRatio: 1,
    events: [],
    layout: { padding },
    plugins: { legend: { display: false }, tooltip: { enabled: false }, title: { display: false } },
  };
}

const dayTicks = range(MJD_MIN, MJD_MAX, 1);

const crossStyle = (r: number, w: number) => ({
  pointStyle: "crossRot", pointRadius: r, borderColor: "#000", pointBorderColor: "#000",
  backgroundColor: "#000", borderWidth: w, pointBorderWidth: w,
});

// ---------------- chart configs ----------------
function makeTop() {
  return {
    type: "scatter",
    data: {
      datasets: [
        {
          data: peakMjd.map((x, i) => ({ x, y: peakNs[i] })),
          pointStyle: "triangle", pointRadius: 22, pointHoverRadius: 22,
          borderColor: "#ff0000", pointBorderColor: "#ff0000",
          backgroundColor: "rgba(0,0,0,0)", pointBackgroundColor: "rgba(0,0,0,0)",
          borderWidth: 4, pointBorderWidth: 4, order: 0, clip: false,
        },
        {
          data: smoothMjd.map((x, i) => ({ x, y: smoothNs[i] })),
          showLine: true, borderColor: "#1e90ff", borderWidth: 4.5, pointRadius: 0,
          cubicInterpolationMode: "monotone", spanGaps: false, order: 1,
        },
        { data: series(rawStartMjd, rawStepDay, rawNs), ...crossStyle(4.6, 1.3), order: 2 },
        { data: series(rawMidStartMjd, rawStepDay, rawMidNs), ...crossStyle(4.6, 1.3), order: 3 },
      ],
    },
    options: {
      ...baseOptions({ left: 48, right: 66.5, top: 124.8, bottom: 0 }),
      scales: {
        x: linScale({ min: MJD_MIN, max: MJD_MAX, ticks: mjdTickLabels, fmt: fmtPlain, pad: 20.5, title: "Modified Julian Date", h: 84.5 }),
        y: linScale({ min: -16, max: 28, ticks: nsTickLabels, fmt: fmtInt, pad: 24, title: "nanosecond", w: 114 }),
      },
    },
    plugins: [
      makeDecor({
        ticks: [
          { axis: "x", side: "top", values: dayTicks, len: 7 },
          { axis: "x", side: "top", values: mjdTickLabels, len: 13 },
          { axis: "x", side: "bottom", values: dayTicks, len: 7 },
          { axis: "x", side: "bottom", values: mjdTickLabels, len: 13 },
          { axis: "y", side: "left", values: nsTickLabels, len: 15 },
          { axis: "y", side: "right", values: nsTickLabels, len: 13 },
        ],
        texts: [
          { text: "UTC(VSL)-UTC(PTB)  /GPS  P3  (VS08,PT13)", x: "center", y: 67, size: 35, align: "center" },
          { text: "GPS.GPI/Tai2607__VS08-PT13/024-005#_  2944/1_AV/L2U__CLB__________", x: 200, y: 800, size: 30, bold: true },
        ],
        pointLabels: [{ xs: peakMjd, ys: peakNs, labels: peakLabels, dy: 73, size: 24, color: "#ff0000" }],
      }),
    ],
  };
}

function makeResid() {
  return {
    type: "scatter",
    data: {
      datasets: [
        { data: series(residStartMjd, residStepDay, residNs), ...crossStyle(4.3, 1.1) },
        { data: series(residMidStartMjd, residStepDay, residMidNs), ...crossStyle(4.3, 1.1) },
        { data: residOutlierMjd.map((x, i) => ({ x, y: residOutlierNs[i] })), ...crossStyle(4.3, 1.1) },
      ],
    },
    options: {
      ...baseOptions({ left: 34, right: 66.5, top: 22.9, bottom: 2 }),
      scales: {
        x: linScale({ min: MJD_MIN, max: MJD_MAX, ticks: mjdTickLabels, fmt: fmtPlain, pad: 20.3, title: "Modified Julian Date", h: 85.2 }),
        y: linScale({ min: -2.3, max: 2.42, ticks: residTickLabels, fmt: fmtRes, pad: 24, title: "residuals (ns)", w: 128 }),
      },
    },
    plugins: [
      makeDecor({
        ticks: [
          { axis: "x", side: "top", values: dayTicks, len: 7 },
          { axis: "x", side: "top", values: mjdTickLabels, len: 13 },
          { axis: "x", side: "bottom", values: dayTicks, len: 7 },
          { axis: "x", side: "bottom", values: mjdTickLabels, len: 13 },
          { axis: "y", side: "left", values: residTickLabels, len: 15 },
          { axis: "y", side: "right", values: residTickLabels, len: 12 },
        ],
        texts: [
          { text: "Max Smoothing Residual: -1.904_Vdk1.D5  Sigma= 0.553ns14/54_08/04/26Mn_____-2.922", x: 200, y: 442, size: 25, bold: true },
        ],
      }),
    ],
  };
}

function makeAdev() {
  return {
    type: "scatter",
    data: {
      datasets: [
        {
          data: tauLog.map((x, i) => ({ x, y: modAdevLog[i] })),
          pointStyle: "circle", pointRadius: 6.5, backgroundColor: "#000", pointBackgroundColor: "#000", borderWidth: 0, pointBorderWidth: 0,
        },
        {
          data: intervalLog.map((x) => ({ x, y: ADEV_MIN })),
          pointStyle: "circle", pointRadius: 5, backgroundColor: "#000", pointBackgroundColor: "#000", borderWidth: 0, pointBorderWidth: 0,
        },
      ],
    },
    options: {
      ...baseOptions({ left: 0, right: 14.6, top: 21.4, bottom: 56 }),
      scales: {
        x: linScale({ min: 3, max: 6, ticks: logTauTickLabels, fmt: fmtPlain, pad: 25.2, title: "Averaging time, log(\u03c4) (s)", h: 88.6 }),
        y: linScale({ min: ADEV_MIN, max: -11.5, ticks: adevTickLabels, fmt: fmtInt, pad: 25.5, w: 169 }),
      },
    },
    plugins: [
      makeDecor({
        ticks: [
          { axis: "x", side: "top", values: [3.5, 4.5, 5.5], len: 7 },
          { axis: "x", side: "top", values: logTauTickLabels, len: 14 },
          { axis: "x", side: "bottom", values: [3, 3.5, 4, 4.5, 5, 5.5, 6], len: 8 },
          { axis: "y", side: "left", values: [-15.5, -15, -14, -13, -12, -11.5], len: 6 },
          { axis: "y", side: "right", values: range(-15.5, -11.5, 0.5), len: 7 },
        ],
        texts: [{ text: "\u03c4 = 1027s", x: 214, y: 50, size: 17, bold: true }],
        pointLabels: [
          { xs: tauLog, ys: modAdevLog, labels: modAdevLabels, dy: 18, size: 20, color: "#ff0000" },
          { xs: intervalLog, ys: null, labels: intervalLabels, dy: 17, size: 20, color: "#ff0000" },
        ],
        rotTitle: {
          parts: [{ t: "Modified Allan Deviation (10" }, { t: "-15", sup: true }, { t: ")" }],
          x: 72, y: 246, size: 30,
        },
      }),
    ],
  };
}

function makeTdev() {
  return {
    type: "scatter",
    data: {
      datasets: [
        {
          data: tauLog.map((x, i) => ({ x, y: tdevLog[i] })),
          pointStyle: "circle", pointRadius: 6.5, backgroundColor: "#000", pointBackgroundColor: "#000", borderWidth: 0, pointBorderWidth: 0,
        },
        {
          data: intervalLog.map((x) => ({ x, y: TDEV_MIN })),
          pointStyle: "circle", pointRadius: 5, backgroundColor: "#000", pointBackgroundColor: "#000", borderWidth: 0, pointBorderWidth: 0,
        },
      ],
    },
    options: {
      ...baseOptions({ left: 0, right: 94.4, top: 21.4, bottom: 56 }),
      scales: {
        x: linScale({ min: 2.75, max: 6, ticks: logTauTickLabels, fmt: fmtPlain, pad: 25.2, title: "Averaging time, log(\u03c4) (s)", h: 88.6 }),
        y: linScale({ min: TDEV_MIN, max: -7.5, ticks: tdevTickLabels, fmt: fmtInt, pad: 26.5, w: 129.5 }),
      },
    },
    plugins: [
      makeDecor({
        ticks: [
          { axis: "x", side: "top", values: [3.5, 4.5, 5.5], len: 7 },
          { axis: "x", side: "top", values: logTauTickLabels, len: 14 },
          { axis: "x", side: "bottom", values: logTauTickLabels, len: 8 },
          { axis: "y", side: "left", values: tdevTickLabels, len: 13 },
          { axis: "y", side: "right", values: range(-10, -7.5, 0.5), len: 13 },
        ],
        pointLabels: [
          { xs: tauLog, ys: tdevLog, labels: tdevLabels, dy: 24, size: 19, color: "#ff0000" },
          { xs: intervalLog, ys: null, labels: intervalLabels, dy: 24, size: 19, color: "#ff0000" },
        ],
        rotTitle: {
          parts: [{ t: "Time deviation (10" }, { t: "-10", sup: true }, { t: " s)" }],
          x: 33, y: 246, size: 30,
        },
      }),
    ],
  };
}

function ChartBox(props: { left: number; top: number; width: number; height: number; make: () => any }) {
  const ref = useRef<HTMLCanvasElement | null>(null);
  const { make } = props;
  useEffect(() => {
    if (!ref.current) return;
    const chart = new Chart(ref.current, make());
    return () => chart.destroy();
  }, [make]);
  return (
    <canvas
      ref={ref}
      width={props.width}
      height={props.height}
      style={{ position: "absolute", left: props.left, top: props.top, width: props.width, height: props.height }}
    />
  );
}

export default function App() {
  return (
    <div style={{ position: "absolute", left: 0, top: 0, width: 1488, height: 2105, background: "#fff", overflow: "hidden" }}>
      <ChartBox left={0} top={0} width={1488} height={930} make={makeTop} />
      <ChartBox left={0} top={930} width={1488} height={560} make={makeResid} />
      <ChartBox left={0} top={1490} width={724} height={615} make={makeAdev} />
      <ChartBox left={724} top={1490} width={764} height={615} make={makeTdev} />
    </div>
  );
}
